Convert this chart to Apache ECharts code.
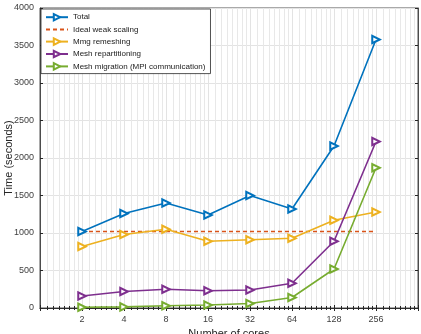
<!DOCTYPE html>
<html>
<head>
<meta charset="utf-8">
<script src="https://cdn.jsdelivr.net/npm/echarts@6/dist/echarts.min.js"></script>
<style>
  html, body { margin: 0; padding: 0; background: #fff; }
  #chart { width: 421px; height: 334px; }
</style>
</head>
<body>
<div id="chart"></div>
<script>
const cores = [2, 4, 8, 16, 32, 64, 128, 256];
const totalTime = [1020, 1260, 1400, 1240, 1500, 1320, 2160, 3580];
const idealTime = [1020, 1020, 1020, 1020, 1020, 1020, 1020, 1020];
const mmgTime = [820, 980, 1050, 890, 910, 930, 1170, 1280];
const repartTime = [160, 220, 250, 230, 240, 330, 890, 2220];
const migrationTime = [10, 15, 30, 40, 60, 140, 520, 1870];
const yTicks = [0, 500, 1000, 1500, 2000, 2500, 3000, 3500, 4000];

const tc = '#404040';
const gc = '#e3e3e3';
const font = 'Liberation Sans, Arial, sans-serif';

const pairs = arr => cores.map((c, i) => [c, arr[i]]);

function lineSeries(name, data, color) {
  return {
    name, type: 'line', data: pairs(data),
    symbol: 'emptyTriangle', symbolSize: 7.5, symbolRotate: -90,
    lineStyle: { width: 1.6, color },
    itemStyle: { color, borderWidth: 1.3 },
    animation: false
  };
}

const c = echarts.init(document.getElementById('chart'), null, { renderer: 'canvas' });
const xLabel = v => cores.includes(Math.round(v)) ? String(Math.round(v)) : '';

c.setOption({
  backgroundColor: '#fff',
  textStyle: { fontFamily: font },
  grid: { left: 40, right: 3, top: 8, bottom: 26, outerBoundsMode: 'none', containLabel: false,
    show: true, borderColor: '#262626', borderWidth: 0.8 },
  legend: {
    orient: 'vertical', left: 41, top: 9,
    backgroundColor: '#fff', borderColor: '#262626', borderWidth: 0.8,
    padding: [4, 5, 3, 4], itemGap: 4, itemWidth: 22, itemHeight: 8,
    textStyle: { color: '#1a1a1a', fontSize: 8, fontFamily: font },
    data: ['Total', { name: 'Ideal weak scaling', itemStyle: { opacity: 0 } }, 'Mmg remeshing', 'Mesh repartitioning', 'Mesh migration (MPI communication)']
  },
  xAxis: [{
    type: 'log', logBase: 2, min: 1, max: 512, splitNumber: 9,
    name: 'Number of cores', nameLocation: 'middle', nameGap: 20, nameMoveOverlap: false,
    nameTextStyle: { color: '#262626', fontSize: 11 },
    axisLine: { lineStyle: { color: '#262626', width: 0.8 } },
    axisTick: { inside: true, length: 3, lineStyle: { color: '#262626' } },
    minorTick: { show: true, splitNumber: 8, length: 2, lineStyle: { color: '#262626' } },
    axisLabel: { color: tc, fontSize: 9, margin: 7, formatter: xLabel },
    splitLine: { show: true, lineStyle: { color: gc, width: 1 } },
    minorSplitLine: { show: true, lineStyle: { color: '#e8e8e8', width: 1 } }
  }, {
    type: 'log', logBase: 2, min: 1, max: 512, splitNumber: 9, position: 'top',
    axisLine: { lineStyle: { color: '#262626', width: 0.8 } },
    axisTick: { inside: true, length: 3, lineStyle: { color: '#262626' } },
    minorTick: { show: true, splitNumber: 8, length: 2, lineStyle: { color: '#262626' } },
    axisLabel: { show: false }, splitLine: { show: false }
  }],
  yAxis: [{
    type: 'value', min: yTicks[0], max: yTicks[yTicks.length - 1], interval: 500,
    name: 'Time (seconds)', nameLocation: 'middle', nameGap: 26, nameMoveOverlap: false,
    nameTextStyle: { color: '#262626', fontSize: 11 },
    axisLine: { show: true, lineStyle: { color: '#262626', width: 0.8 } },
    axisTick: { show: true, inside: true, length: 3, lineStyle: { color: '#262626' } },
    axisLabel: { color: tc, fontSize: 9, margin: 6, formatter: v => String(v) },
    splitLine: { show: true, lineStyle: { color: gc, width: 1 } }
  }, {
    type: 'value', min: yTicks[0], max: yTicks[yTicks.length - 1], interval: 500, position: 'right',
    axisLine: { show: true, lineStyle: { color: '#262626', width: 0.8 } },
    axisTick: { show: true, inside: true, length: 3, lineStyle: { color: '#262626' } },
    axisLabel: { show: false }, splitLine: { show: false }
  }],
  series: [
    lineSeries('Total', totalTime, '#0072BD'),
    {
      name: 'Ideal weak scaling', type: 'line', data: pairs(idealTime),
      symbol: 'none', lineStyle: { width: 1.6, color: '#D95319', type: [4, 3] },
      itemStyle: { color: '#D95319' }, animation: false
    },
    lineSeries('Mmg remeshing', mmgTime, '#EDB120'),
    lineSeries('Mesh repartitioning', repartTime, '#7E2F8E'),
    lineSeries('Mesh migration (MPI communication)', migrationTime, '#77AC30')
  ]
});
</script>
</body>
</html>
